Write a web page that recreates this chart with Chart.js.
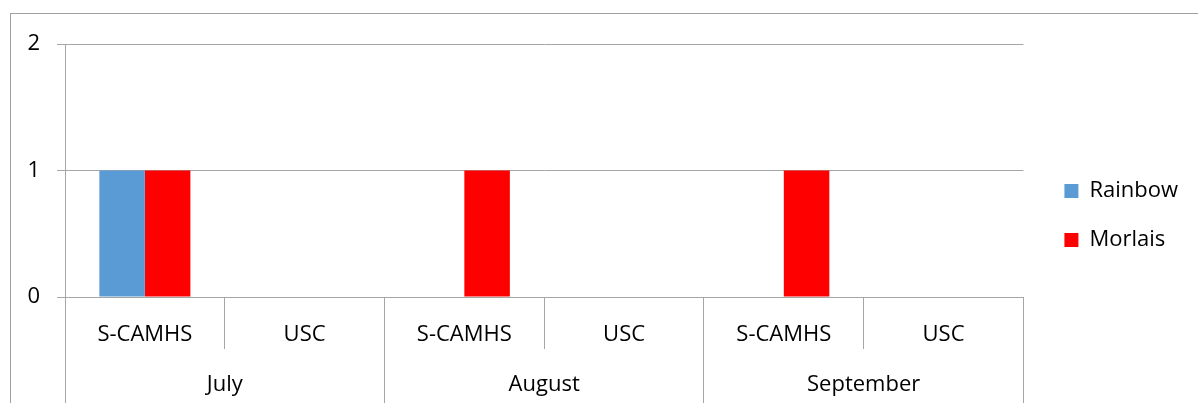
<!DOCTYPE html>
<html>
<head>
<meta charset="utf-8">
<script src="https://cdn.jsdelivr.net/npm/chart.js@4/dist/chart.umd.min.js"></script>
<style>
  html, body { margin: 0; padding: 0; background: #fff; }
  #frame {
    position: absolute; left: 10px; top: 13px; width: 1300px; height: 500px;
    border-top: 1px solid #a0a0a0; border-left: 1px solid #a0a0a0;
  }
  #c { position: absolute; left: 11px; top: 14px; }
</style>
</head>
<body>
<div id="frame"></div>
<canvas id="c" width="1187" height="389"></canvas>
<script>
const services = ["S-CAMHS", "USC", "S-CAMHS", "USC", "S-CAMHS", "USC"];
const months = ["July", "August", "September"];
const rainbow = [1, 0, 0, 0, 0, 0];
const morlais = [1, 0, 1, 0, 1, 0];
const yTicks = [0, 1, 2];

const grey = "#a6a6a6";
const font = { family: "'Open Sans'", size: 22 };

let chart = new Chart(document.getElementById("c"), {
  type: "bar",
  data: {
    labels: services,
    datasets: [
      { label: "Rainbow", data: rainbow, backgroundColor: "#5b9bd5", xAxisID: "x", yAxisID: "y" },
      { label: "Morlais", data: morlais, backgroundColor: "#ff0000", xAxisID: "x", yAxisID: "y" }
    ]
  },
  options: {
    responsive: false,
    animation: false,
    devicePixelRatio: 1,
    categoryPercentage: 0.57,
    barPercentage: 1,
    layout: { padding: { top: 14, right: 10, bottom: 0, left: 0 } },
    plugins: {
      tooltip: { enabled: false },
      legend: {
        position: "right",
        labels: { boxWidth: 14, boxHeight: 14, padding: 27, color: "#000", font: font }
      }
    },
    scales: {
      x: {
        type: "category",
        offset: true,
        grid: { offset: true, drawOnChartArea: false, tickLength: 52, color: grey },
        border: { color: grey },
        ticks: { color: "#000", font: font, padding: -27, maxRotation: 0 },
        afterFit: s => { s.height = 52; }
      },
      x2: {
        type: "category",
        position: "bottom",
        labels: months,
        offset: true,
        grid: { offset: true, drawOnChartArea: false, tickLength: 54, color: grey },
        border: { display: false },
        ticks: { color: "#000", font: font, padding: -31, maxRotation: 0 },
        afterFit: s => { s.height = 54; }
      },
      y: {
        min: 0,
        max: 2,
        afterBuildTicks: s => { s.ticks = yTicks.map(v => ({ value: v })); },
        grid: { color: grey, tickLength: 8 },
        border: { color: grey },
        ticks: { color: "#000", font: font, padding: 17 },
        afterFit: s => { s.width = 54; }
      },
      gap: {
        type: "linear",
        position: "right",
        grid: { display: false },
        border: { display: false },
        ticks: { display: false },
        afterFit: s => { s.width = 14; }
      }
    }
  }
});
</script>
</body>
</html>
